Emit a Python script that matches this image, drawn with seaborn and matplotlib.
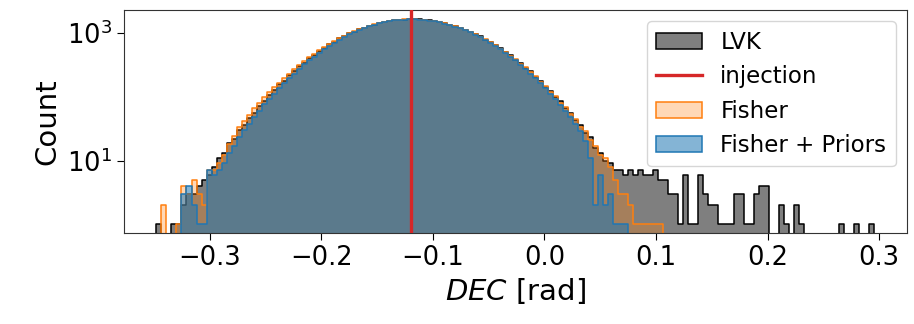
import numpy as np
import pandas as pd
import matplotlib
matplotlib.use("Agg")
import matplotlib.pyplot as plt
import seaborn as sns
from matplotlib.patches import Patch
from matplotlib.lines import Line2D
from matplotlib.ticker import FixedLocator, NullLocator, LogFormatterSciNotation

# ---------------- data ----------------
bin_start = -0.348
bin_width = 0.0045
injection = -0.12

lvk_counts = [
    1, 0, 0, 1, 1, 2, 3, 3, 4, 5, 6, 8,
    11, 13, 19, 22, 30, 36, 47, 55, 73, 85, 108, 126, 157, 180, 220, 252, 301, 341, 404,
    452, 526, 582, 667, 729, 822, 889, 985, 1052, 1150, 1213, 1306, 1362, 1445, 1488, 1552, 1580, 1626, 1632, 1655,
    1641, 1640, 1605, 1585, 1528, 1490, 1415, 1362, 1275, 1212, 1118, 1049, 952, 884, 790, 726, 640, 580, 501, 450,
    382, 340, 284, 250, 205, 179, 144, 125, 99, 85, 66, 56, 43, 36, 27, 23, 16, 13, 10,
    9, 7, 7, 6, 7, 6, 7, 6, 6, 7, 5, 5,
    3, 3, 1, 6, 1, 1, 6, 3, 2, 2, 1, 1, 1, 3, 3, 1, 1, 3, 4, 4,
    0, 0, 2, 1, 0, 2, 1, 0, 0, 0, 0, 0, 0, 0, 1, 0, 0, 1, 0, 0, 1,
]

fisher_counts = [
    0, 2, 0, 0, 1, 4, 3, 5, 3, 2, 7, 7,
    9, 12, 18, 24, 33, 41, 52, 66, 80, 98, 118, 142, 165, 200, 232, 270, 318, 362, 420,
    470, 535, 600, 672, 741, 826, 899, 990, 1060, 1145, 1220, 1300, 1370, 1430, 1496, 1540, 1590, 1612, 1640, 1645,
    1650, 1628, 1615, 1572, 1540, 1478, 1425, 1350, 1285, 1200, 1128, 1036, 964, 870, 802, 712, 650, 568, 512, 440,
    390, 330, 292, 242, 212, 172, 150, 119, 103, 80, 70, 53, 45, 34, 29, 21, 17, 12, 11,
    8, 5, 3, 3, 2, 1, 1, 1, 1, 1, 1,
]

priors_counts = [
    0, 0, 0, 0, 0, 3, 4, 2, 1, 1, 7, 6,
    7, 9, 13, 17, 23, 30, 38, 48, 60, 76, 92, 112, 135, 165, 196, 232, 275, 322, 375,
    428, 495, 560, 630, 708, 790, 872, 950, 1040, 1118, 1200, 1282, 1352, 1420, 1480, 1535, 1575, 1608, 1630, 1642,
    1640, 1630, 1604, 1570, 1524, 1470, 1410, 1340, 1265, 1188, 1105, 1022, 940, 858, 778, 700, 625, 555, 488, 428,
    372, 320, 274, 232, 197, 165, 137, 112, 92, 74, 60, 48, 38, 29, 20, 11, 2, 6, 2,
    3, 1, 1, 1,
]

series_names = ["LVK", "Fisher", "Fisher + Priors"]
series_counts = [lvk_counts, fisher_counts, priors_counts]

# ---------------- styling ----------------
face_colors = [(0, 0, 0, 0.5), (1.0, 0.498, 0.055, 0.3), (0.122, 0.467, 0.706, 0.55)]
edge_colors = ["black", "#ff7f0e", "#1f77b4"]

fig = plt.figure(figsize=(9.14, 3.24), dpi=100)
ax = fig.add_axes([0.1357, 0.2809, 0.8566, 0.6882])

for name, counts, fc, ec in zip(series_names, series_counts, face_colors, edge_colors):
    counts = np.asarray(counts, dtype=float)
    edges = bin_start + bin_width * np.arange(len(counts) + 1)
    centers = 0.5 * (edges[:-1] + edges[1:])
    df = pd.DataFrame({"x": centers, "w": counts})
    sns.histplot(data=df, x="x", weights="w", bins=list(edges), element="step", fill=True,
                 facecolor=fc, edgecolor=ec, linewidth=1.1, ax=ax)

ax.axvline(injection, color="#d62728", lw=2.4, zorder=10)

ax.set_yscale("log")
ax.set_ylim(0.73, 2300)
ax.set_xlim(-0.377, 0.325)
ax.yaxis.set_major_locator(FixedLocator([10, 1000]))
ax.yaxis.set_major_formatter(LogFormatterSciNotation())
ax.yaxis.set_minor_locator(NullLocator())
ax.set_xticks([-0.3, -0.2, -0.1, 0.0, 0.1, 0.2, 0.3])
ax.tick_params(labelsize=18.5, length=5)
for s in ax.spines.values():
    s.set_color("#333333")

ax.set_xlabel("$DEC$ [rad]", fontsize=21)
ax.set_ylabel("Count", fontsize=21)

handles = [
    Patch(facecolor=face_colors[0], edgecolor=edge_colors[0], linewidth=1.1),
    Line2D([0], [0], color="#d62728", lw=2.4),
    Patch(facecolor=face_colors[1], edgecolor=edge_colors[1], linewidth=1.1),
    Patch(facecolor=face_colors[2], edgecolor=edge_colors[2], linewidth=1.1),
]
labels = ["LVK", "injection", "Fisher", "Fisher + Priors"]
ax.legend(handles, labels, loc="upper right", fontsize=16.5)

fig.savefig("out.png", dpi=100)
